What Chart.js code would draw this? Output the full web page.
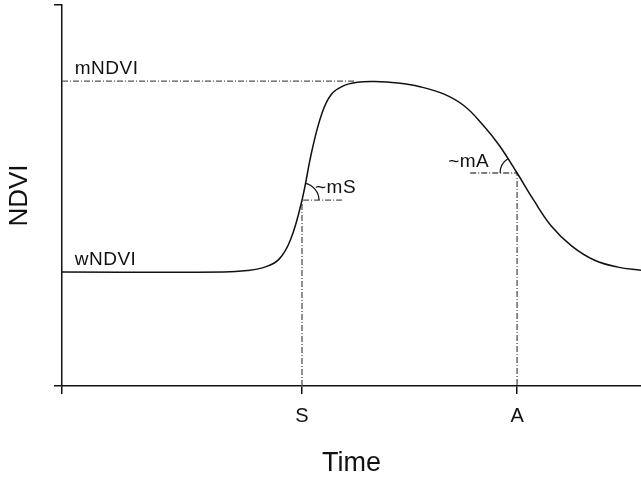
<!DOCTYPE html>
<html>
<head>
<meta charset="utf-8">
<title>NDVI phenology</title>
<script src="https://cdn.jsdelivr.net/npm/chart.js@4/dist/chart.umd.min.js"></script>
<style>
  html, body { margin: 0; padding: 0; background: #fff; }
  #wrap { width: 641px; height: 481px; }
</style>
</head>
<body>
<div id="wrap"><canvas id="chart" width="641" height="481"></canvas></div>
<script>
// --- Data (time 0..100, NDVI 0..1) ---
const curveTime = [0, 28, 32, 35, 37.5, 39.5, 41.45, 43.2, 44.9, 46.5, 48.5, 51, 54, 58, 62, 66, 69.5, 72.7, 75.5, 78.6, 81.5, 84.5, 88, 92, 96, 100];
const curveNdvi = [0.299, 0.299, 0.303, 0.312, 0.333, 0.385, 0.488, 0.620, 0.716, 0.765, 0.787, 0.797, 0.799, 0.795, 0.785, 0.766, 0.735, 0.685, 0.632, 0.559, 0.487, 0.420, 0.368, 0.330, 0.312, 0.304];

const wNDVI = 0.299;
const mNDVI = 0.80;
const mNdviLineEnd = 50.6;      // where the dotted mNDVI guide stops
const sTime = 41.45, sNdvi = 0.488, sGuideEnd = 48.5;
const aTime = 78.6, aNdvi = 0.559, aGuideStart = 70.5;

const xTicks = [0, sTime, aTime];
const xTickLabels = ['', 'S', 'A'];
const yTicks = [0, 1];

// text labels: [text, time, ndvi]
const notes = [
  ['mNDVI', 2.2, 0.82],
  ['wNDVI', 2.2, 0.318],
  ['~mS', 43.7, 0.507],
  ['~mA', 66.7, 0.575]
];

const FONT = 'Arial, "Liberation Sans", Helvetica, sans-serif';
const INK = '#111';
const GUIDE = '#555';
const DASH = [6, 2, 1, 2];

const curve = curveTime.map((t, i) => ({ x: t, y: curveNdvi[i] }));

// angle arcs + text notes
const overlay = {
  id: 'overlay',
  afterDatasetsDraw(chart) {
    const { ctx, scales: { x, y } } = chart;
    ctx.save();
    ctx.strokeStyle = INK;
    ctx.lineWidth = 1.2;

    // angle from a point to the next curve point further along
    const angleTo = (t0, v0, dir) => {
      const cx = x.getPixelForValue(t0), cy = y.getPixelForValue(v0);
      const p = dir > 0 ? curve.find(d => d.x > t0 + 1) : [...curve].reverse().find(d => d.x < t0 - 1);
      return Math.atan2(y.getPixelForValue(p.y) - cy, x.getPixelForValue(p.x) - cx);
    };

    // ~mS arc
    let cx = x.getPixelForValue(sTime), cy = y.getPixelForValue(sNdvi);
    ctx.beginPath();
    ctx.arc(cx, cy, 17, angleTo(sTime, sNdvi, 1), 0);
    ctx.stroke();

    // ~mA arc
    cx = x.getPixelForValue(aTime); cy = y.getPixelForValue(aNdvi);
    let a = angleTo(aTime, aNdvi, -1);
    if (a < 0) a += Math.PI * 2;
    ctx.beginPath();
    ctx.arc(cx, cy, 17, Math.PI, a);
    ctx.stroke();

    // notes
    ctx.fillStyle = INK;
    ctx.font = '19px ' + FONT;
    ctx.textBaseline = 'alphabetic';
    ctx.letterSpacing = '0.5px';
    notes.forEach(([txt, t, v]) => {
      ctx.fillText(txt, x.getPixelForValue(t), y.getPixelForValue(v));
    });
    ctx.restore();
  }
};

const guide = (data) => ({
  data,
  borderColor: GUIDE,
  borderWidth: 1.3,
  borderDash: DASH,
  pointRadius: 0,
  fill: false,
  tension: 0
});

new Chart(document.getElementById('chart'), {
  type: 'line',
  data: {
    datasets: [
      {
        data: curve,
        borderColor: INK,
        borderWidth: 1.5,
        pointRadius: 0,
        fill: false,
        tension: 0.4
      },
      guide([{ x: 0, y: mNDVI }, { x: mNdviLineEnd, y: mNDVI }]),
      guide([{ x: sTime, y: 0 }, { x: sTime, y: sNdvi }, { x: sGuideEnd, y: sNdvi }]),
      guide([{ x: aGuideStart, y: aNdvi }, { x: aTime, y: aNdvi }, { x: aTime, y: 0 }])
    ]
  },
  options: {
    responsive: false,
    devicePixelRatio: 1,
    animation: false,
    layout: { padding: { top: 5, right: 0, left: 0, bottom: 0 } },
    plugins: { legend: { display: false }, tooltip: { enabled: false } },
    scales: {
      x: {
        type: 'linear',
        min: 0, max: 100,
        afterBuildTicks: s => { s.ticks = xTicks.map(v => ({ value: v })); },
        afterFit: s => { s.height = 95; },
        border: { display: true, color: INK, width: 1.5 },
        grid: { drawOnChartArea: false, drawTicks: true, tickLength: 8, color: INK, lineWidth: 1.5 },
        ticks: {
          padding: 10,
          color: INK,
          font: { family: FONT, size: 20 },
          maxRotation: 0,
          autoSkip: false,
          callback: (v) => xTickLabels[xTicks.indexOf(v)] ?? ''
        },
        title: {
          display: true,
          text: 'Time',
          color: INK,
          font: { family: FONT, size: 27 },
          padding: { top: 0, bottom: 1 }
        }
      },
      y: {
        type: 'linear',
        min: 0, max: 1,
        afterBuildTicks: s => { s.ticks = yTicks.map(v => ({ value: v })); },
        afterFit: s => { s.width = 62; },
        border: { display: true, color: INK, width: 1.5 },
        grid: { drawOnChartArea: false, drawTicks: true, tickLength: 8, color: INK, lineWidth: 1.5 },
        ticks: { display: false },
        title: {
          display: true,
          text: 'NDVI',
          color: INK,
          font: { family: FONT, size: 26 },
          padding: { top: 4, bottom: 0 }
        }
      }
    }
  },
  plugins: [overlay]
});
</script>
</body>
</html>
